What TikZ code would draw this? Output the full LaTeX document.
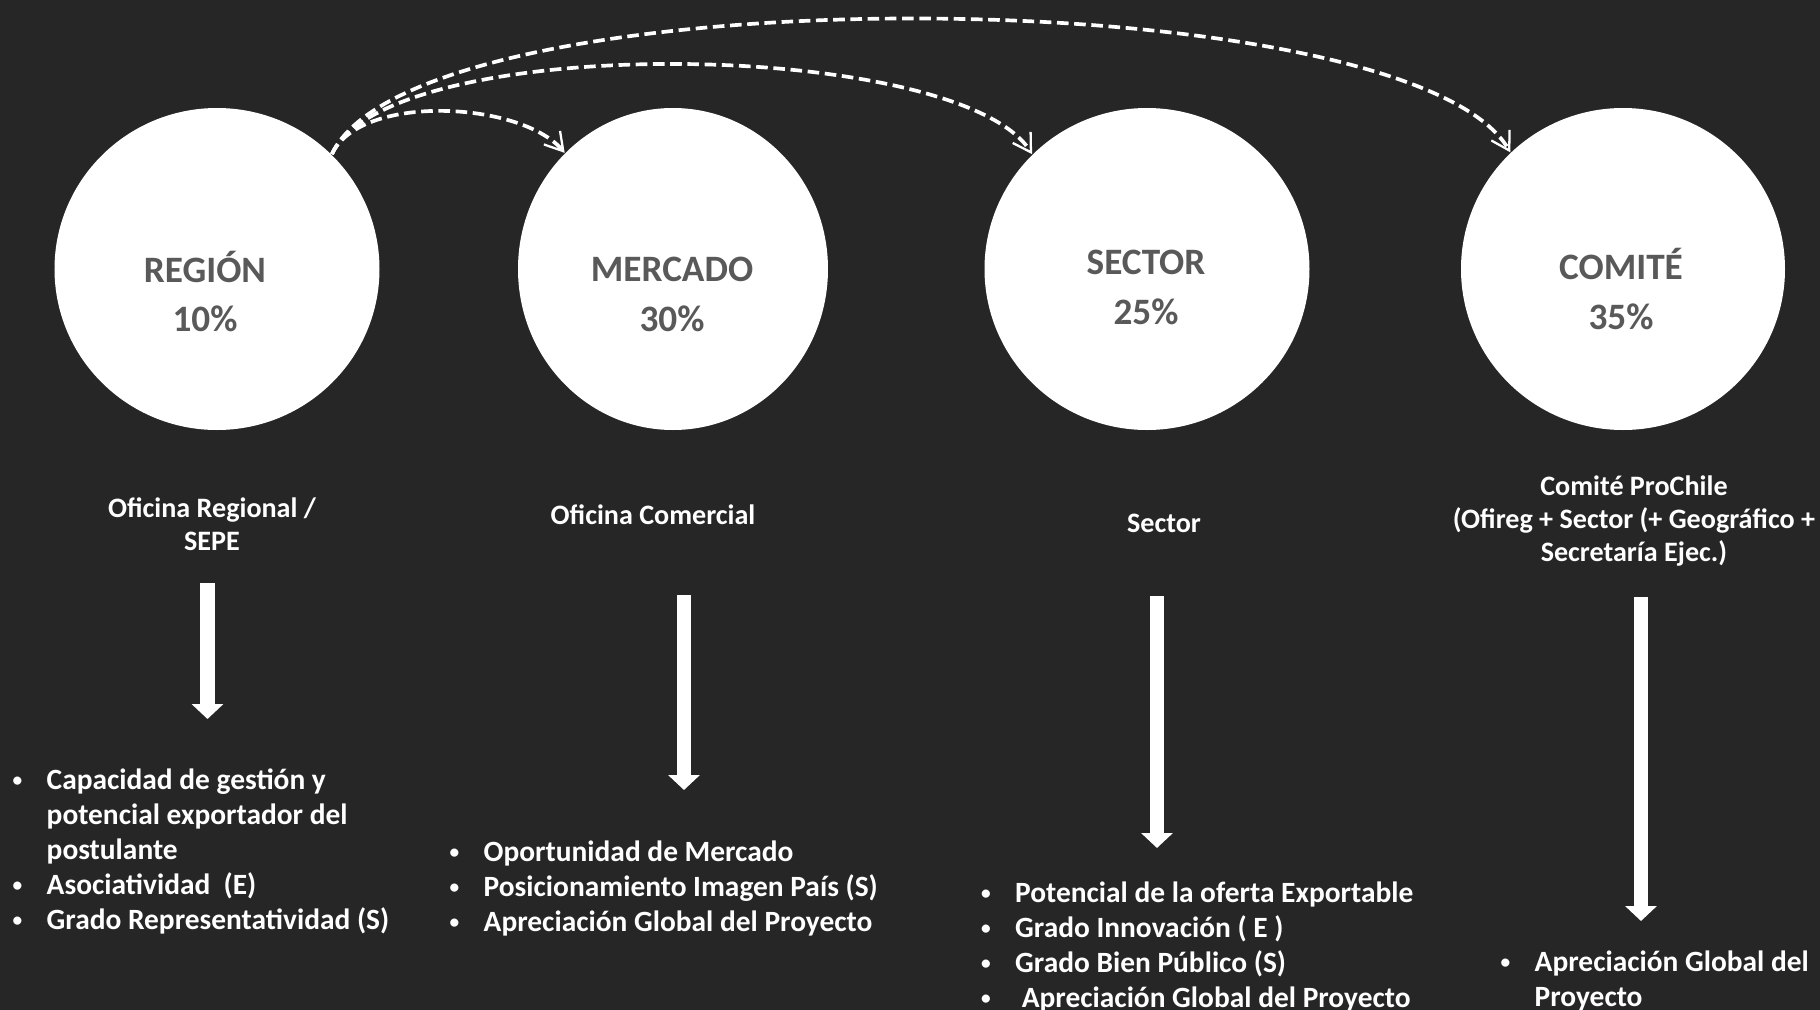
\documentclass[tikz,border=0pt]{standalone}
\usepackage{fontspec}
\setmainfont{Carlito}
\usetikzlibrary{arrows.meta}
\usetikzlibrary{shapes.geometric}
\definecolor{bg}{RGB}{38,38,38}
\definecolor{tx}{RGB}{89,89,89}
\newcommand{\bl}{\makebox[0.38cm][l]{\hspace*{0.04cm}\raisebox{0.9pt}{\fontsize{5.5}{5.5}\selectfont\textbullet}}}
\newcommand{\ind}{\hspace*{0.38cm}}

\begin{document}
\begin{tikzpicture} [
    circ/.style={
        ellipse, fill=white, inner sep=0pt,
        minimum height=3.22cm
    },
    ctxt/.style={
        font=\fontsize{10.6}{14.2}\selectfont\bfseries,
        text=tx, align=center
    },
    own/.style={
        font=\fontsize{8}{9.4}\selectfont\bfseries,
        text=white, align=center
    },
    lst/.style={
        font=\fontsize{8.37}{10}\selectfont\bfseries,
        text=white, align=left,
        anchor=north west, inner sep=0pt
    },
    blk/.style={
        white, line width=0.145cm,
        -{Triangle[length=0.15cm,width=0.31cm]}
    },
    dd/.style={
        white, line width=1.05pt, dash pattern=on 3.3pt off 1.6pt,
        -{Straight Barb[length=5pt,width=6pt,line width=0.65pt]}
    }
]

\path [use as bounding box, fill=bg] (0,0) rectangle (18.2,-10.1);

\node [circ,minimum width=3.25cm] (c1) at (2.17,-2.69)  {};
\node [circ,minimum width=3.10cm] (c2) at (6.73,-2.69)  {};
\node [circ,minimum width=3.25cm] (c3) at (11.47,-2.69) {};
\node [circ,minimum width=3.24cm] (c4) at (16.23,-2.69) {};

\node [ctxt] (t1) at (2.05,-2.915)  {REGIÓN\\10\%};
\node [ctxt] (t2) at (6.72,-2.94)   {MERCADO\\30\%};
\node [ctxt] (t3) at (11.46,-2.875) {SECTOR\\25\%};
\node [ctxt] (t4) at (16.21,-2.89)  {COMITÉ\\35\%};

\draw [dd] (c1.45) to [out=65,in=130,looseness=0.74] (c2.133);
\draw [dd] (c1.45) to [out=65,in=122,looseness=0.50] (c3.135);
\draw [dd] (c1.45) to [out=65,in=120,looseness=0.44] (c4.134);

\node [own] (o1) at (2.12,-5.24)  {Oficina Regional /\\SEPE};
\node [own] (o2) at (6.53,-5.15)  {Oficina Comercial};
\node [own] (o3) at (11.64,-5.23) {Sector};
\node [own] (o4) at (16.34,-5.21) {Comité ProChile\\(Ofireg + Sector (+ Geográfico +\\Secretaría Ejec.)};

\coordinate (a1) at (2.075,-5.83);  \coordinate (e1) at (2.075,-7.19);
\coordinate (a2) at (6.84,-5.95);   \coordinate (e2) at (6.84,-7.90);
\coordinate (a3) at (11.57,-5.96);  \coordinate (e3) at (11.57,-8.48);
\coordinate (a4) at (16.41,-5.97);  \coordinate (e4) at (16.41,-9.21);

\draw [blk] (a1) -- (e1);
\draw [blk] (a2) -- (e2);
\draw [blk] (a3) -- (e3);
\draw [blk] (a4) -- (e4);

\node [lst] (l1) at (0.08,-7.68) {\bl Capacidad de gestión y\\
    \ind potencial exportador del\\
    \ind postulante\\
    \bl Asociatividad\ \ (E)\\
    \bl Grado Representatividad (S)};

\node [lst] (l2) at (4.45,-8.40) {\bl Oportunidad de Mercado\\
    \bl Posicionamiento Imagen País (S)\\
    \bl Apreciación Global del Proyecto};

\node [lst] (l3) at (9.765,-8.81) {\bl Potencial de la oferta Exportable\\
    \bl Grado Innovación ( E )\\
    \bl Grado Bien Público (S)\\
    \bl\ Apreciación Global del Proyecto};

\node [lst] (l4) at (14.96,-9.50) {\bl Apreciación Global del\\
    \ind Proyecto};

\end{tikzpicture}
\end{document}
